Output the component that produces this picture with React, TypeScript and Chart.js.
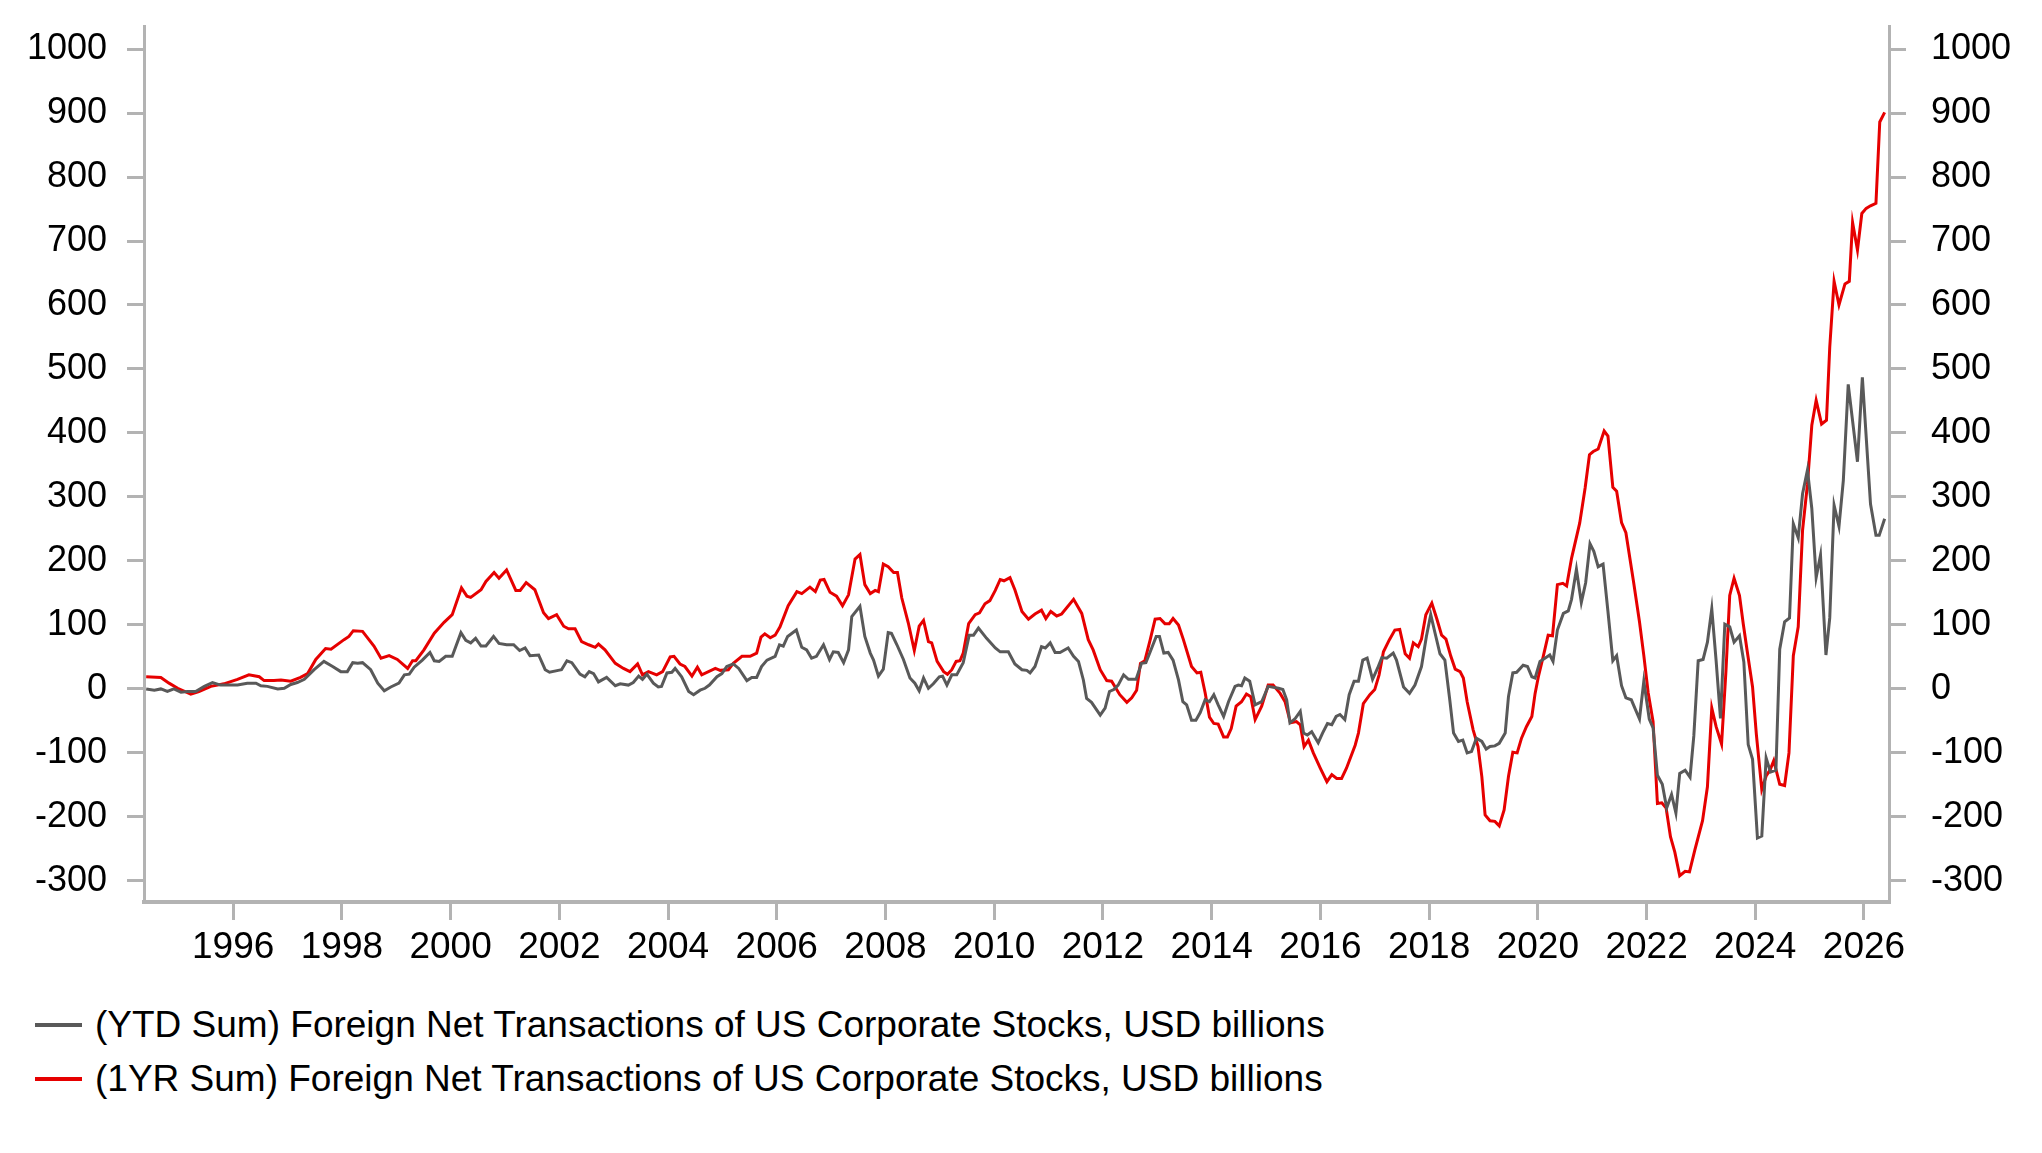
import { useEffect, useRef } from "react"
import { Chart, registerables } from "chart.js"

Chart.register(...registerables)

// (YTD Sum) series as [decimal year, USD bn]
const ytdYears = [
  1994.4, 1994.55, 1994.67, 1994.79, 1994.91, 1995.04, 1995.16, 1995.31, 1995.47, 1995.62, 1995.77, 1995.96,
  1996.08, 1996.26, 1996.42, 1996.51, 1996.63, 1996.82, 1996.94, 1997.06, 1997.18, 1997.31, 1997.49, 1997.67,
  1997.83, 1997.98, 1998.1, 1998.2, 1998.29, 1998.38, 1998.53, 1998.66, 1998.78, 1998.9, 1999.05, 1999.15,
  1999.24, 1999.33, 1999.48, 1999.62, 1999.7, 1999.79, 1999.91, 2000.03, 2000.19, 2000.28, 2000.37, 2000.46,
  2000.56, 2000.65, 2000.79, 2000.89, 2001.03, 2001.16, 2001.27, 2001.37, 2001.46, 2001.62, 2001.74, 2001.82,
  2001.98, 2002.04, 2002.14, 2002.23, 2002.38, 2002.47, 2002.55, 2002.63, 2002.72, 2002.87, 2003.03, 2003.12,
  2003.27, 2003.36, 2003.46, 2003.53, 2003.61, 2003.73, 2003.82, 2003.88, 2003.98, 2004.07, 2004.13, 2004.25,
  2004.38, 2004.47, 2004.59, 2004.68, 2004.76, 2004.9, 2004.99, 2005.08, 2005.2, 2005.3, 2005.45, 2005.54,
  2005.63, 2005.72, 2005.82, 2005.97, 2006.05, 2006.12, 2006.2, 2006.36, 2006.46, 2006.55, 2006.64, 2006.73,
  2006.86, 2006.97, 2007.04, 2007.13, 2007.23, 2007.32, 2007.38, 2007.53, 2007.62, 2007.72, 2007.78, 2007.87,
  2007.96, 2008.05, 2008.11, 2008.21, 2008.33, 2008.45, 2008.54, 2008.62, 2008.7, 2008.79, 2008.88, 2008.99,
  2009.05, 2009.13, 2009.22, 2009.31, 2009.43, 2009.54, 2009.62, 2009.71, 2009.86, 2010.02, 2010.11, 2010.26,
  2010.38, 2010.51, 2010.6, 2010.66, 2010.75, 2010.87, 2010.94, 2011.03, 2011.12, 2011.21, 2011.36, 2011.46,
  2011.55, 2011.64, 2011.7, 2011.79, 2011.95, 2012.04, 2012.12, 2012.2, 2012.28, 2012.38, 2012.47, 2012.61,
  2012.71, 2012.79, 2012.87, 2012.98, 2013.04, 2013.12, 2013.2, 2013.29, 2013.39, 2013.47, 2013.54, 2013.63,
  2013.71, 2013.79, 2013.88, 2013.96, 2014.04, 2014.12, 2014.22, 2014.31, 2014.43, 2014.49, 2014.55, 2014.61,
  2014.7, 2014.8, 2014.92, 2015.04, 2015.23, 2015.31, 2015.38, 2015.44, 2015.53, 2015.63, 2015.69, 2015.76,
  2015.84, 2015.96, 2016.04, 2016.13, 2016.21, 2016.29, 2016.36, 2016.45, 2016.53, 2016.62, 2016.7, 2016.78,
  2016.86, 2016.96, 2017.05, 2017.13, 2017.22, 2017.34, 2017.4, 2017.53, 2017.64, 2017.74, 2017.86, 2017.95,
  2018.03, 2018.11, 2018.2, 2018.29, 2018.38, 2018.45, 2018.54, 2018.62, 2018.7, 2018.78, 2018.87, 2018.97,
  2019.05, 2019.12, 2019.21, 2019.29, 2019.4, 2019.46, 2019.54, 2019.61, 2019.73, 2019.81, 2019.89, 2019.95,
  2020.04, 2020.13, 2020.22, 2020.28, 2020.36, 2020.47, 2020.56, 2020.62, 2020.71, 2020.8, 2020.88, 2020.96,
  2021.03, 2021.11, 2021.2, 2021.29, 2021.38, 2021.45, 2021.54, 2021.62, 2021.72, 2021.87, 2021.95, 2022.05,
  2022.12, 2022.2, 2022.29, 2022.37, 2022.46, 2022.54, 2022.61, 2022.71, 2022.8, 2022.87, 2022.95, 2023.04,
  2023.12, 2023.2, 2023.28, 2023.36, 2023.44, 2023.53, 2023.61, 2023.71, 2023.79, 2023.87, 2023.95, 2024.04,
  2024.12, 2024.2, 2024.28, 2024.38, 2024.45, 2024.54, 2024.63, 2024.7, 2024.79, 2024.87, 2024.96, 2025.04,
  2025.12, 2025.2, 2025.3, 2025.37, 2025.45, 2025.54, 2025.62, 2025.71, 2025.88, 2025.97, 2026.12, 2026.22,
  2026.28, 2026.38,
]
const ytdValues = [
  0, -2, 0, -4, 0, -5, -4, -4, 4, 10, 6, 6,
  6, 9, 9, 5, 4, 0, 1, 7, 10, 15, 30, 43,
  35, 27, 27, 41, 40, 41, 30, 9, -3, 3, 9, 22,
  23, 34, 45, 57, 44, 43, 51, 51, 88, 76, 72, 79,
  67, 67, 82, 71, 69, 69, 60, 64, 52, 53, 30, 26,
  29, 30, 44, 41, 23, 19, 27, 24, 11, 18, 5, 8,
  6, 10, 20, 15, 23, 9, 3, 4, 25, 26, 32, 19,
  -4, -9, -2, 1, 6, 19, 24, 35, 39, 32, 13, 18,
  18, 35, 45, 51, 69, 67, 82, 92, 65, 61, 48, 51,
  69, 46, 58, 57, 41, 61, 113, 129, 82, 56, 45, 20,
  31, 88, 87, 69, 46, 17, 9, -3, 17, 1, 8, 19,
  20, 6, 22, 22, 41, 84, 84, 95, 79, 64, 58, 58,
  39, 30, 29, 25, 35, 66, 64, 72, 57, 57, 64, 51,
  43, 14, -15, -21, -41, -30, -4, -1, 6, 22, 15, 15,
  40, 41, 58, 82, 82, 56, 57, 45, 14, -20, -25, -49,
  -49, -37, -17, -20, -9, -25, -43, -20, 4, 6, 5, 17,
  12, -25, -20, 4, 1, -1, -17, -53, -47, -35, -69, -72,
  -67, -84, -69, -54, -56, -43, -40, -48, -9, 12, 12, 45,
  48, 15, 32, 49, 48, 56, 45, 3, -7, 6, 35, 82,
  116, 87, 55, 45, -17, -69, -82, -80, -100, -98, -77, -82,
  -94, -90, -89, -85, -69, -12, 25, 26, 37, 35, 19, 17,
  43, 48, 53, 43, 92, 118, 122, 140, 187, 135, 166, 227,
  215, 191, 195, 121, 44, 52, 5, -14, -17, -47, 12, -47,
  -61, -135, -149, -186, -165, -194, -132, -127, -138, -73, 44, 46,
  73, 125, 44, -46, 101, 97, 73, 83, 42, -87, -110, -233,
  -230, -108, -130, -127, 62, 105, 111, 258, 236, 305, 342, 282,
  174, 209, 53, 111, 287, 254, 326, 476, 355, 487, 289, 240,
  240, 266,
]

// (1YR Sum) series
const yrYears = [
  1994.4, 1994.67, 1994.82, 1994.98, 1995.22, 1995.37, 1995.59, 1995.83, 1996.08, 1996.29, 1996.48, 1996.57,
  1996.75, 1996.88, 1997.06, 1997.24, 1997.37, 1997.52, 1997.7, 1997.8, 1998.04, 1998.13, 1998.21, 1998.38,
  1998.59, 1998.72, 1998.87, 1999.02, 1999.21, 1999.3, 1999.36, 1999.51, 1999.7, 1999.88, 2000.03, 2000.2,
  2000.3, 2000.37, 2000.56, 2000.65, 2000.8, 2000.89, 2001.03, 2001.2, 2001.28, 2001.39, 2001.55, 2001.71,
  2001.8, 2001.95, 2002.08, 2002.17, 2002.29, 2002.41, 2002.54, 2002.66, 2002.72, 2002.84, 2003.03, 2003.18,
  2003.3, 2003.44, 2003.53, 2003.64, 2003.79, 2003.9, 2004.04, 2004.11, 2004.22, 2004.31, 2004.44, 2004.54,
  2004.62, 2004.87, 2004.96, 2005.11, 2005.2, 2005.36, 2005.51, 2005.63, 2005.71, 2005.78, 2005.88, 2005.97,
  2006.06, 2006.21, 2006.37, 2006.46, 2006.61, 2006.71, 2006.8, 2006.87, 2006.98, 2007.1, 2007.21, 2007.32,
  2007.44, 2007.53, 2007.62, 2007.72, 2007.81, 2007.87, 2007.96, 2008.05, 2008.15, 2008.22, 2008.3, 2008.42,
  2008.53, 2008.62, 2008.7, 2008.79, 2008.85, 2008.95, 2009.07, 2009.14, 2009.22, 2009.3, 2009.37, 2009.43,
  2009.53, 2009.65, 2009.73, 2009.83, 2009.92, 2010.02, 2010.11, 2010.18, 2010.29, 2010.38, 2010.51, 2010.63,
  2010.75, 2010.87, 2010.95, 2011.04, 2011.15, 2011.24, 2011.46, 2011.61, 2011.73, 2011.82, 2011.95, 2012.07,
  2012.16, 2012.31, 2012.44, 2012.53, 2012.62, 2012.69, 2012.77, 2012.87, 2012.96, 2013.05, 2013.14, 2013.22,
  2013.29, 2013.39, 2013.48, 2013.63, 2013.73, 2013.8, 2013.88, 2013.96, 2014.04, 2014.12, 2014.22, 2014.29,
  2014.36, 2014.45, 2014.55, 2014.64, 2014.72, 2014.8, 2014.92, 2015.04, 2015.13, 2015.26, 2015.35, 2015.45,
  2015.56, 2015.63, 2015.7, 2015.78, 2015.87, 2016.0, 2016.12, 2016.21, 2016.3, 2016.39, 2016.48, 2016.64,
  2016.7, 2016.79, 2016.91, 2017.0, 2017.08, 2017.16, 2017.27, 2017.37, 2017.46, 2017.56, 2017.64, 2017.71,
  2017.8, 2017.86, 2017.94, 2018.05, 2018.14, 2018.23, 2018.31, 2018.4, 2018.48, 2018.57, 2018.63, 2018.7,
  2018.81, 2018.9, 2018.97, 2019.03, 2019.12, 2019.21, 2019.29, 2019.38, 2019.46, 2019.54, 2019.62, 2019.7,
  2019.79, 2019.89, 2019.95, 2020.01, 2020.1, 2020.19, 2020.27, 2020.36, 2020.46, 2020.53, 2020.62, 2020.77,
  2020.87, 2020.95, 2021.02, 2021.11, 2021.22, 2021.29, 2021.38, 2021.45, 2021.54, 2021.62, 2021.76, 2021.87,
  2021.95, 2022.03, 2022.12, 2022.2, 2022.28, 2022.36, 2022.44, 2022.52, 2022.61, 2022.71, 2022.79, 2022.89,
  2023.03, 2023.12, 2023.2, 2023.28, 2023.38, 2023.46, 2023.53, 2023.61, 2023.71, 2023.78, 2023.85, 2023.95,
  2024.02, 2024.12, 2024.2, 2024.27, 2024.34, 2024.45, 2024.54, 2024.62, 2024.7, 2024.79, 2024.87, 2024.96,
  2025.04, 2025.12, 2025.22, 2025.31, 2025.37, 2025.45, 2025.54, 2025.65, 2025.73, 2025.79, 2025.88, 2025.96,
  2026.04, 2026.12, 2026.22, 2026.29, 2026.38,
]
const yrValues = [
  19, 18, 9, 1, -8, -4, 4, 8, 15, 22, 19, 13,
  13, 14, 12, 18, 24, 46, 63, 62, 77, 82, 91, 90,
  67, 48, 52, 46, 32, 44, 44, 61, 87, 104, 116, 158,
  145, 143, 155, 168, 182, 173, 186, 154, 154, 166, 155, 119,
  110, 116, 98, 94, 94, 74, 69, 65, 70, 61, 40, 32,
  27, 39, 22, 27, 22, 27, 50, 51, 39, 35, 20, 34,
  22, 32, 29, 30, 40, 51, 51, 56, 81, 86, 80, 84,
  97, 130, 152, 149, 159, 152, 170, 171, 151, 145, 130, 147,
  203, 210, 163, 149, 154, 152, 195, 191, 182, 182, 142, 103,
  60, 98, 107, 74, 72, 43, 27, 23, 30, 43, 44, 56,
  102, 116, 119, 133, 138, 154, 171, 169, 174, 155, 121, 109,
  117, 123, 110, 121, 114, 117, 140, 118, 77, 61, 30, 13,
  12, -9, -21, -14, -2, 40, 44, 77, 109, 110, 102, 102,
  110, 100, 77, 35, 25, 26, -6, -44, -54, -55, -75, -75,
  -62, -27, -20, -8, -12, -48, -27, 6, 6, -7, -20, -53,
  -51, -56, -90, -80, -100, -124, -145, -134, -140, -140, -124, -88,
  -69, -23, -9, -1, 22, 58, 77, 92, 93, 55, 48, 72,
  66, 78, 116, 134, 110, 84, 78, 51, 31, 27, 17, -20,
  -64, -90, -137, -197, -206, -207, -214, -189, -137, -99, -100, -77,
  -59, -43, -7, 19, 51, 84, 83, 163, 165, 161, 204, 259,
  314, 366, 371, 375, 403, 395, 315, 309, 260, 244, 168, 105,
  52, -6, -51, -179, -178, -186, -231, -255, -292, -285, -286, -251,
  -206, -153, -30, -59, -86, 27, 146, 173, 146, 101, 60, 3,
  -71, -157, -136, -127, -112, -149, -151, -100, 52, 97, 248, 320,
  412, 451, 414, 420, 534, 637, 600, 633, 637, 729, 686, 743,
  751, 755, 759, 886, 901,
]

const tickYears = [1996, 1998, 2000, 2002, 2004, 2006, 2008, 2010, 2012, 2014, 2016, 2018, 2020, 2022, 2024, 2026]

const seriesLabels = [
  "(YTD Sum) Foreign Net Transactions of US Corporate Stocks, USD billions",
  "(1YR Sum) Foreign Net Transactions of US Corporate Stocks, USD billions",
]
const seriesColors = ["#595959", "#e60000"]

const FONT = '"Liberation Sans", Arial, Helvetica, sans-serif'
const AXIS_GRAY = "#b3b3b3"

export default function App() {
  const chartRef = useRef<HTMLCanvasElement>(null)
  const chartInstance = useRef<Chart | null>(null)

  useEffect(() => {
    if (!chartRef.current) return
    if (chartInstance.current) chartInstance.current.destroy()

    const ytd = ytdYears.map((x, i) => ({ x, y: ytdValues[i] }))
    const yr = yrYears.map((x, i) => ({ x, y: yrValues[i] }))

    const yAxis = (position: "left" | "right", width: number, padding: number) => ({
      type: "linear" as const,
      position,
      min: -333,
      max: 1036,
      ticks: {
        stepSize: 100,
        includeBounds: false,
        padding,
        color: "#000",
        font: { family: FONT, size: 36 },
        callback: (v: any) => String(v),
      },
      grid: { drawOnChartArea: false, drawTicks: true, tickLength: 17, color: AXIS_GRAY, lineWidth: 3 },
      border: { display: true, color: AXIS_GRAY, width: 3 },
      afterFit: (s: any) => {
        // fixed axis width, and no extra room reserved for the end labels
        s.width = width
        s.paddingTop = 0
        s.paddingBottom = 0
      },
    })

    chartInstance.current = new Chart(chartRef.current, {
      type: "line",
      data: {
        datasets: [
          {
            label: seriesLabels[0],
            data: ytd,
            borderColor: seriesColors[0],
            borderWidth: 3,
            pointRadius: 0,
            tension: 0,
          },
          {
            label: seriesLabels[1],
            data: yr,
            borderColor: seriesColors[1],
            borderWidth: 3,
            pointRadius: 0,
            tension: 0,
          },
        ],
      },
      options: {
        responsive: false,
        animation: false,
        layout: { padding: { top: 26, left: 0, right: 0, bottom: 0 } },
        plugins: {
          legend: { display: false },
          tooltip: { enabled: false },
        },
        scales: {
          x: {
            type: "linear",
            position: "bottom",
            min: 1994.36,
            max: 2026.46,
            afterBuildTicks: (s: any) => {
              s.ticks = tickYears.map((v) => ({ value: v }))
            },
            ticks: {
              autoSkip: false,
              maxRotation: 0,
              padding: 6,
              color: "#000",
              font: { family: FONT, size: 37 },
              callback: (v: any) => String(v),
            },
            grid: { drawOnChartArea: false, drawTicks: true, tickLength: 18, color: AXIS_GRAY, lineWidth: 3 },
            border: { display: true, color: AXIS_GRAY, width: 4 },
            afterFit: (s: any) => {
              s.height = 78
            },
          },
          y: yAxis("left", 144, 20),
          y2: yAxis("right", 153, 25),
        },
      },
    })

    return () => {
      if (chartInstance.current) {
        chartInstance.current.destroy()
        chartInstance.current = null
      }
    }
  }, [])

  return (
    <div style={{ position: "fixed", left: 0, top: 0, width: 2042, height: 1153, background: "#fff", fontFamily: FONT }}>
      <canvas ref={chartRef} width={2042} height={980} style={{ position: "absolute", left: 0, top: 0 }}></canvas>
      {seriesLabels.map((label, i) => (
        <div
          key={label}
          style={{
            position: "absolute",
            left: 35,
            top: 998 + i * 54,
            height: 54,
            display: "flex",
            alignItems: "center",
            whiteSpace: "nowrap",
            fontSize: 37,
            color: "#000",
          }}
        >
          <span style={{ display: "inline-block", width: 47, height: 4, background: seriesColors[i], marginRight: 13 }}></span>
          <span>{label}</span>
        </div>
      ))}
    </div>
  )
}
